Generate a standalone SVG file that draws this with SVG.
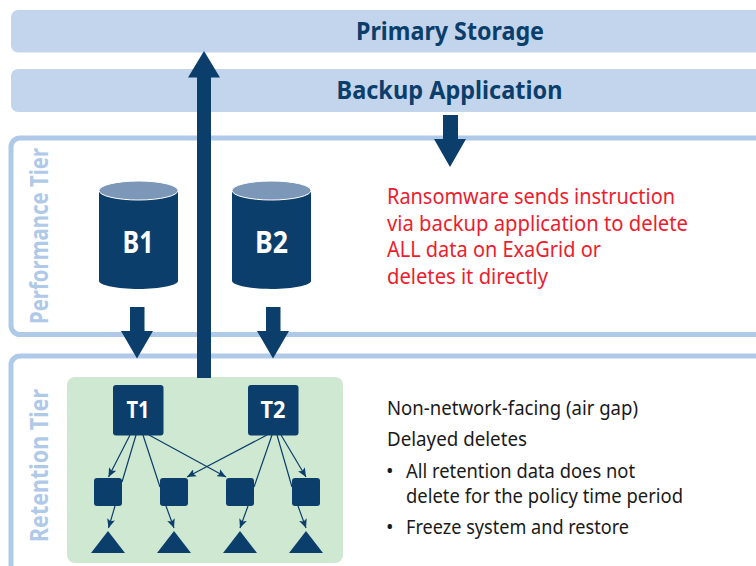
<svg xmlns="http://www.w3.org/2000/svg" width="756" height="566" viewBox="0 0 756 566">
<style>
text{font-family:"Noto Sans","Open Sans","Liberation Sans",sans-serif;}
.bar{fill:#c3d5ec}
.frame{fill:none;stroke:#afc9e8;stroke-width:5}
.navy{fill:#0b3e6b}
.title{font-size:25px;font-weight:700;fill:#0b3e6b}
.tier{font-size:25px;font-weight:700;fill:#afc9e8}
.white{font-weight:700;fill:#fff;text-anchor:middle}
.red{font-size:21.5px;fill:#ed1c2e}
.black{font-size:20px;fill:#1a1a1a}
.thin{fill:none;stroke:#0b3e6b;stroke-width:1.2}
.head{fill:none;stroke:#0b3e6b;stroke-width:1.2;marker-end:url(#tip)}
</style>
<defs>
<marker id="tip" markerUnits="userSpaceOnUse" markerWidth="10" markerHeight="8" refX="9" refY="4" orient="auto"><path d="M0 0L9 4L0 8L2 4Z" fill="#0b3e6b"/></marker>
</defs>
<g id="primary-storage"><rect class="bar" x="11" y="10" width="760" height="42.500" rx="7"/><text class="title" x="356" y="39.500" textLength="188" lengthAdjust="spacingAndGlyphs">Primary Storage</text></g>
<g id="backup-application"><rect class="bar" x="11" y="69" width="760" height="43" rx="7"/><text class="title" x="336.500" y="98.500" textLength="226" lengthAdjust="spacingAndGlyphs">Backup Application</text></g>
<g id="performance-tier"><rect class="frame" x="11" y="138" width="770" height="196.500" rx="9"/><text class="tier" transform="translate(48 324) rotate(-90)" textLength="176" lengthAdjust="spacingAndGlyphs">Performance Tier</text></g>
<g id="retention-tier"><rect class="frame" x="11" y="356" width="770" height="240" rx="9"/><text class="tier" transform="translate(48 542) rotate(-90)" textLength="153" lengthAdjust="spacingAndGlyphs">Retention Tier</text></g>
<g id="air-gap-zone"><rect x="67" y="377" width="276" height="186" rx="8" fill="#cfe8d1"/></g>
<g id="b1"><path class="navy" d="M99 190V281C99 285 117 289 138.500 289S178 285 178 281V190Z"/><ellipse cx="138.500" cy="190.500" rx="39.500" ry="9.500" fill="#7c97b7" stroke="#fff" stroke-width="1"/><text class="white" x="138" y="253" font-size="31" textLength="31" lengthAdjust="spacingAndGlyphs">B1</text></g>
<g id="b2"><path class="navy" d="M232 190V281C232 285 250 289 271.500 289S311 285 311 281V190Z"/><ellipse cx="271.500" cy="190.500" rx="39.500" ry="9.500" fill="#7c97b7" stroke="#fff" stroke-width="1"/><text class="white" x="271.500" y="253" font-size="31" textLength="33" lengthAdjust="spacingAndGlyphs">B2</text></g>
<g id="connectors">
<path class="navy" d="M197 378V77.500H188L204 51L220 77.500H211V378Z"/>
<path class="navy" d="M443 115H458V139H466L450 167L434 139H443Z"/>
<path class="navy" d="M130 307H144.500V331H153L137 358.500L121 331H130Z"/>
<path class="navy" d="M266 307H280.500V331H289L273 358.500L257 331H266Z"/>
<path class="head" d="M130 435L108.500 477"/>
<path class="thin" d="M136 435L122 482"/>
<path class="head" d="M115 506L108.500 528"/>
<path class="thin" d="M143 435L160 487"/>
<path class="head" d="M166 506L174 528"/>
<path class="head" d="M149 435L226 477"/>
<path class="head" d="M267 435L187 477"/>
<path class="thin" d="M272 435L254 487"/>
<path class="head" d="M248 506L240 528"/>
<path class="thin" d="M277 435L292 487"/>
<path class="head" d="M298 506L306 528"/>
<path class="head" d="M281 435L306 477"/>
</g>
<g id="t1"><rect class="navy" x="113" y="385" width="50.500" height="50.500" rx="3"/><text class="white" x="138" y="418" font-size="23" textLength="23" lengthAdjust="spacingAndGlyphs">T1</text></g>
<g id="t2"><rect class="navy" x="248" y="385" width="50.500" height="50.500" rx="3"/><text class="white" x="273" y="418" font-size="23" textLength="25" lengthAdjust="spacingAndGlyphs">T2</text></g>
<g id="s1"><rect class="navy" x="94" y="478" width="28" height="28" rx="3"/></g>
<g id="s2"><rect class="navy" x="160" y="478" width="28" height="28" rx="3"/></g>
<g id="s3"><rect class="navy" x="226" y="478" width="28" height="28" rx="3"/></g>
<g id="s4"><rect class="navy" x="292" y="478" width="28" height="28" rx="3"/></g>
<g id="d1"><path class="navy" d="M108 531L125 553H91Z"/></g>
<g id="d2"><path class="navy" d="M174 531L191 553H157Z"/></g>
<g id="d3"><path class="navy" d="M240 531L257 553H223Z"/></g>
<g id="d4"><path class="navy" d="M306 531L323 553H289Z"/></g>
<g id="ransomware-note">
<text class="red" x="387" y="204" textLength="288" lengthAdjust="spacingAndGlyphs">Ransomware sends instruction</text>
<text class="red" x="387" y="230.500" textLength="301" lengthAdjust="spacingAndGlyphs">via backup application to delete</text>
<text class="red" x="387" y="257" textLength="214" lengthAdjust="spacingAndGlyphs">ALL data on ExaGrid or</text>
<text class="red" x="387" y="283.500" textLength="161" lengthAdjust="spacingAndGlyphs">deletes it directly</text>
</g>
<g id="retention-note">
<text class="black" x="387" y="414.500" textLength="251" lengthAdjust="spacingAndGlyphs">Non-network-facing (air gap)</text>
<text class="black" x="387" y="446" textLength="140" lengthAdjust="spacingAndGlyphs">Delayed deletes</text>
<text class="black" x="386" y="478">•</text><text class="black" x="406" y="478" textLength="229" lengthAdjust="spacingAndGlyphs">All retention data does not</text>
<text class="black" x="406" y="503" textLength="277" lengthAdjust="spacingAndGlyphs">delete for the policy time period</text>
<text class="black" x="386" y="534">•</text><text class="black" x="406" y="534" textLength="223" lengthAdjust="spacingAndGlyphs">Freeze system and restore</text>
</g>
</svg>
